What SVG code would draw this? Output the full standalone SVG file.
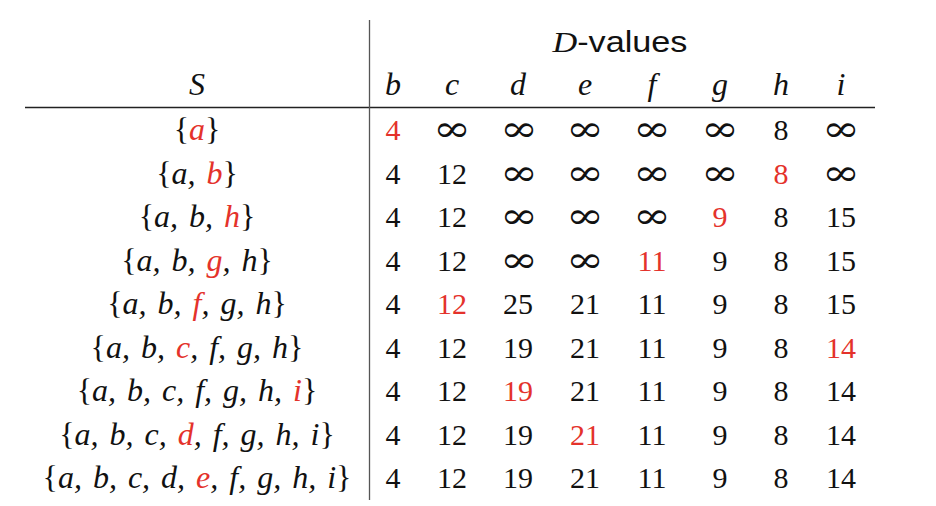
<svg xmlns="http://www.w3.org/2000/svg" width="936" height="506" viewBox="0 0 936 506">
<style>
text{font-family:"Liberation Serif","Times New Roman",serif;font-size:30px;fill:#111;text-anchor:middle}
.it{font-style:italic;font-size:32px}
.up{font-style:normal}
.r{fill:#e4322b}
.set{word-spacing:3px}
.inf{font-family:"DejaVu Serif",serif;font-size:36px}
.sans{font-family:"Liberation Sans","Arial",sans-serif;font-style:normal;font-size:30px}
.rule{stroke:#222;stroke-width:1.3;fill:none}
.vrule{stroke:#555;stroke-width:1.3;fill:none}
</style>
<rect width="936" height="506" fill="#fff"/>
<g id="rules">
<line class="rule" x1="25" y1="107.5" x2="875" y2="107.5"/>
<line class="vrule" x1="369.5" y1="20" x2="369.5" y2="500"/>
</g>
<g id="header">
<text x="620" y="52" textLength="135" lengthAdjust="spacingAndGlyphs"><tspan class="it" style="font-size:30px">D</tspan><tspan class="sans">-values</tspan></text>
<text class="it" x="197" y="95">S</text>
<text class="it" x="393" y="95">b</text>
<text class="it" x="452" y="95">c</text>
<text class="it" x="518" y="95">d</text>
<text class="it" x="585" y="95">e</text>
<text class="it" x="652" y="95">f</text>
<text class="it" x="720" y="95">g</text>
<text class="it" x="781" y="95">h</text>
<text class="it" x="841" y="95">i</text>
</g>
<g id="sets">
<text class="it set" x="197" y="140"><tspan class="up">{</tspan><tspan class="r">a</tspan><tspan class="up">}</tspan></text>
<text class="it set" x="197" y="183.5"><tspan class="up">{</tspan>a, <tspan class="r">b</tspan><tspan class="up">}</tspan></text>
<text class="it set" x="197" y="227"><tspan class="up">{</tspan>a, b, <tspan class="r">h</tspan><tspan class="up">}</tspan></text>
<text class="it set" x="197" y="270.5"><tspan class="up">{</tspan>a, b, <tspan class="r">g</tspan>, h<tspan class="up">}</tspan></text>
<text class="it set" x="197" y="314"><tspan class="up">{</tspan>a, b, <tspan class="r">f</tspan>, g, h<tspan class="up">}</tspan></text>
<text class="it set" x="197" y="357.5"><tspan class="up">{</tspan>a, b, <tspan class="r">c</tspan>, f, g, h<tspan class="up">}</tspan></text>
<text class="it set" x="197" y="401"><tspan class="up">{</tspan>a, b, c, f, g, h, <tspan class="r">i</tspan><tspan class="up">}</tspan></text>
<text class="it set" x="197" y="444.5"><tspan class="up">{</tspan>a, b, c, <tspan class="r">d</tspan>, f, g, h, i<tspan class="up">}</tspan></text>
<text class="it set" x="197" y="488"><tspan class="up">{</tspan>a, b, c, d, <tspan class="r">e</tspan>, f, g, h, i<tspan class="up">}</tspan></text>
</g>
<g id="values">
<text class="r" x="393" y="140">4</text><text class="inf" x="452" y="141" textLength="38" lengthAdjust="spacingAndGlyphs">∞</text><text class="inf" x="519" y="141" textLength="38" lengthAdjust="spacingAndGlyphs">∞</text><text class="inf" x="585" y="141" textLength="38" lengthAdjust="spacingAndGlyphs">∞</text><text class="inf" x="652" y="141" textLength="38" lengthAdjust="spacingAndGlyphs">∞</text><text class="inf" x="720" y="141" textLength="38" lengthAdjust="spacingAndGlyphs">∞</text><text x="781" y="140">8</text><text class="inf" x="841" y="141" textLength="38" lengthAdjust="spacingAndGlyphs">∞</text>
<text x="393" y="183.5">4</text><text x="452" y="183.5">12</text><text class="inf" x="519" y="184.5" textLength="38" lengthAdjust="spacingAndGlyphs">∞</text><text class="inf" x="585" y="184.5" textLength="38" lengthAdjust="spacingAndGlyphs">∞</text><text class="inf" x="652" y="184.5" textLength="38" lengthAdjust="spacingAndGlyphs">∞</text><text class="inf" x="720" y="184.5" textLength="38" lengthAdjust="spacingAndGlyphs">∞</text><text class="r" x="781" y="183.5">8</text><text class="inf" x="841" y="184.5" textLength="38" lengthAdjust="spacingAndGlyphs">∞</text>
<text x="393" y="227">4</text><text x="452" y="227">12</text><text class="inf" x="519" y="228" textLength="38" lengthAdjust="spacingAndGlyphs">∞</text><text class="inf" x="585" y="228" textLength="38" lengthAdjust="spacingAndGlyphs">∞</text><text class="inf" x="652" y="228" textLength="38" lengthAdjust="spacingAndGlyphs">∞</text><text class="r" x="720" y="227">9</text><text x="781" y="227">8</text><text x="841" y="227">15</text>
<text x="393" y="270.5">4</text><text x="452" y="270.5">12</text><text class="inf" x="519" y="271.5" textLength="38" lengthAdjust="spacingAndGlyphs">∞</text><text class="inf" x="585" y="271.5" textLength="38" lengthAdjust="spacingAndGlyphs">∞</text><text class="r" x="652" y="270.5">11</text><text x="720" y="270.5">9</text><text x="781" y="270.5">8</text><text x="841" y="270.5">15</text>
<text x="393" y="314">4</text><text class="r" x="452" y="314">12</text><text x="518" y="314">25</text><text x="585" y="314">21</text><text x="652" y="314">11</text><text x="720" y="314">9</text><text x="781" y="314">8</text><text x="841" y="314">15</text>
<text x="393" y="357.5">4</text><text x="452" y="357.5">12</text><text x="518" y="357.5">19</text><text x="585" y="357.5">21</text><text x="652" y="357.5">11</text><text x="720" y="357.5">9</text><text x="781" y="357.5">8</text><text class="r" x="841" y="357.5">14</text>
<text x="393" y="401">4</text><text x="452" y="401">12</text><text class="r" x="518" y="401">19</text><text x="585" y="401">21</text><text x="652" y="401">11</text><text x="720" y="401">9</text><text x="781" y="401">8</text><text x="841" y="401">14</text>
<text x="393" y="444.5">4</text><text x="452" y="444.5">12</text><text x="518" y="444.5">19</text><text class="r" x="585" y="444.5">21</text><text x="652" y="444.5">11</text><text x="720" y="444.5">9</text><text x="781" y="444.5">8</text><text x="841" y="444.5">14</text>
<text x="393" y="488">4</text><text x="452" y="488">12</text><text x="518" y="488">19</text><text x="585" y="488">21</text><text x="652" y="488">11</text><text x="720" y="488">9</text><text x="781" y="488">8</text><text x="841" y="488">14</text>
</g>
</svg>
